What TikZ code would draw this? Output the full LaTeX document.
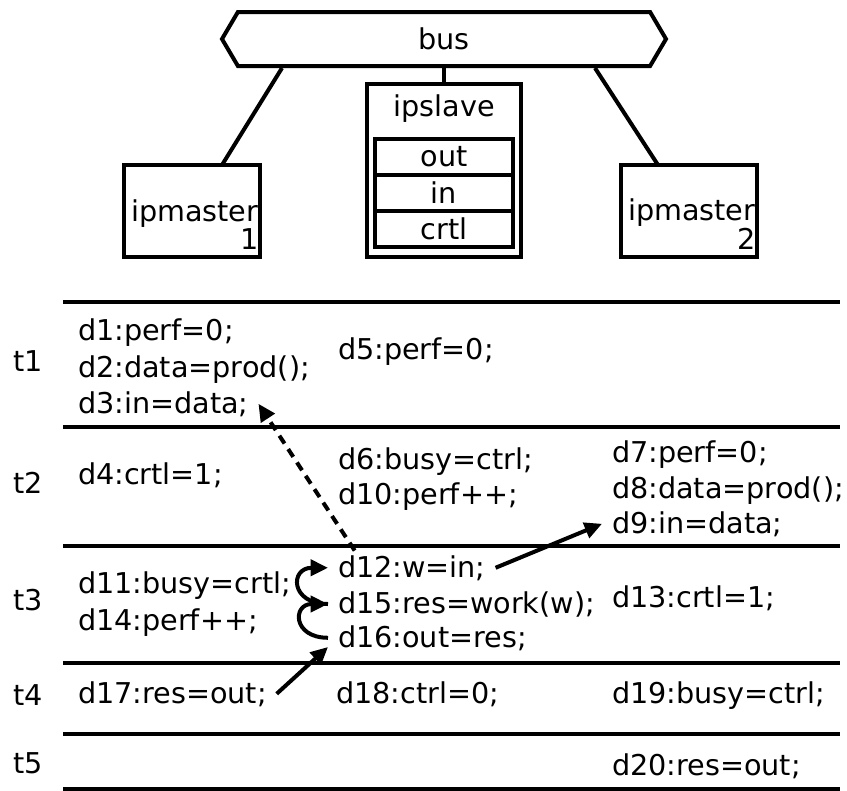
\documentclass[tikz,border=0pt]{standalone}
\usepackage{fontspec}
\setmainfont{DejaVu Sans}
\usetikzlibrary{shapes.symbols,arrows.meta,positioning}

\begin{document}
\begin{tikzpicture}[x=0.75pt,y=-0.75pt,line width=3pt,
    font=\fontsize{21.5}{26}\selectfont,
    flow/.style={-{Triangle[length=13pt,width=12pt]}},
    stmt/.style={anchor=base west,inner xsep=6pt,inner ysep=2pt},
    slot/.style={anchor=base},
    block/.style={draw,outer sep=0pt,minimum width=#1},
    reg/.style={block=103.5pt,minimum height=27pt,inner sep=0pt},
    master/.style={block=102pt,minimum height=69pt,
        label={[align=right,yshift=-10pt,xshift=2pt,font=\fontsize{21.5}{18.75}\selectfont]center:#1}},
    waitlink/.style={flow,dash pattern=on 7pt off 5pt}]
    \useasboundingbox (0,0) rectangle (847,790);

    \node[draw,signal,signal to=west and east,signal pointer angle=119,
        minimum width=333pt,minimum height=40.5pt,inner sep=0pt] (bus) at (444,39) {bus};
    \node[block=115.5pt,minimum height=129.75pt,
        label={[anchor=north,yshift=-3pt]north:ipslave}] (slave) at (444,170.5) {};
    \node[reg] (out) at (444,156.5) {out};
    \node[reg,below=0pt of out] (in) {in};
    \node[reg,below=0pt of in] (crtl) {crtl};
    \node[master={ipmaster\\1}] (m1) at (192,211) {};
    \node[master={ipmaster\\2}] (m2) at (689,211) {};

    \draw ([xshift=-121.5pt]bus.south) -- ([xshift=22.5pt]m1.north);
    \draw (bus.south) -- (slave.north);
    \draw ([xshift=113.25pt]bus.south) -- ([xshift=-23.25pt]m2.north);

    \foreach \y in {302,427,546,663,734,789}
        \draw (63,\y) -- (840,\y);
    \foreach \t/\y in {1/371,2/493,3/610,4/705,5/773}
        \node[slot] (t\t) at (28,\y) {t\t};

    \node[stmt] (d1) at (68,340) {d1:perf=0;};
    \node[stmt] (d2) at (68,377) {d2:data=prod();};
    \node[stmt] (d3) at (68,413) {d3:in=data;};
    \node[stmt] (d5) at (328,359) {d5:perf=0;};

    \node[stmt] (d4) at (68,484) {d4:crtl=1;};
    \node[stmt] (d6) at (328,469) {d6:busy=ctrl;};
    \node[stmt] (d10) at (328,504) {d10:perf++;};
    \node[stmt] (d7) at (602,462) {d7:perf=0;};
    \node[stmt] (d8) at (602,498) {d8:data=prod();};
    \node[stmt] (d9) at (602,533) {d9:in=data;};

    \node[stmt] (d11) at (68,593) {d11:busy=crtl;};
    \node[stmt] (d14) at (68,630) {d14:perf++;};
    \node[stmt] (d12) at (328,577) {d12:w=in;};
    \node[stmt] (d15) at (328,613) {d15:res=work(w);};
    \node[stmt] (d16) at (328,647) {d16:out=res;};
    \node[stmt] (d13) at (602,607) {d13:crtl=1;};

    \node[stmt] (d17) at (68,703) {d17:res=out;};
    \node[stmt] (d18) at (326,703) {d18:ctrl=0;};
    \node[stmt] (d19) at (602,703) {d19:busy=ctrl;};
    \node[stmt] (d20) at (602,775) {d20:res=out;};

    \draw[waitlink] ([xshift=20pt]d12.north west) -- (d3.east);
    \draw[flow] (d12.east) -- (d9.west);
    \draw[flow] (d17.east) -- (d16.base west);
    \draw[flow] (d15.west) to[out=180,in=180,looseness=2.7] (d12.west);
    \draw[flow] (d16.west) to[out=180,in=180,looseness=2.7] (d15.west);
\end{tikzpicture}
\end{document}
